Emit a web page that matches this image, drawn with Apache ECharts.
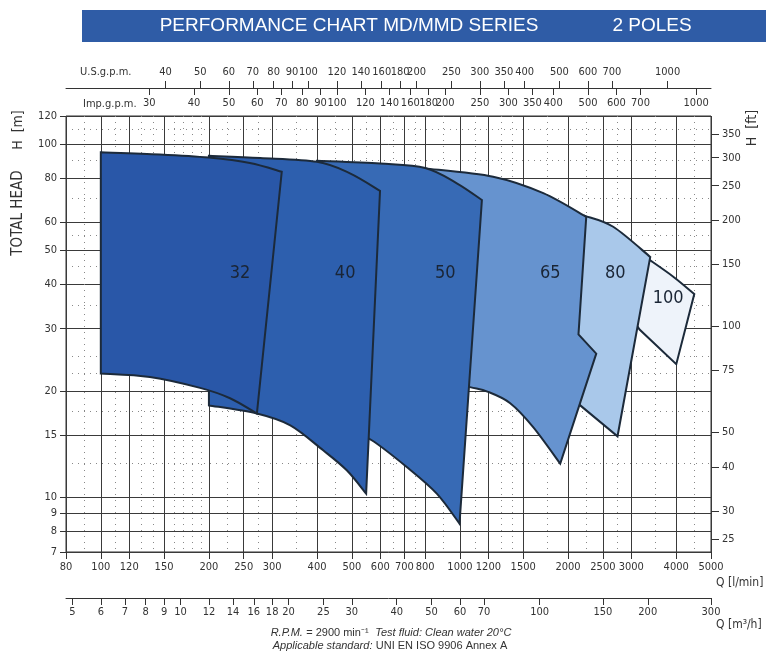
<!DOCTYPE html>
<html><head><meta charset="utf-8">
<script src="https://cdn.jsdelivr.net/npm/echarts@6/dist/echarts.min.js"></script>
<style>html,body{margin:0;padding:0;background:#fff}#c{width:766px;height:653px}</style>
</head><body><div id="c"></div>
<script>
// ---- tick labels ----
const qTicks   = [80,100,120,150,200,250,300,400,500,600,700,800,1000,1200,1500,2000,2500,3000,4000,5000];
const qMinor   = [90,110,130,140,160,170,180,190,225,275,350,450,550,650,750,900,1100,1300,1400,1750,2250,2750,3500,4500];
const m3hTicks = [5,6,7,8,9,10,12,14,16,18,20,25,30,40,50,60,70,100,150,200,300];
const usTicks  = [40,50,60,70,80,90,100,120,140,160,180,200,250,300,350,400,500,600,700,1000];
const impTicks = [30,40,50,60,70,80,90,100,120,140,160,180,200,250,300,350,400,500,600,700,1000];
const hTicks   = [7,8,9,10,15,20,30,40,50,60,80,100,120];
const hMinor   = [110,90,70,55,45,35,25,22.5,17.5,12.5];
const ftTicks  = [25,30,40,50,75,100,150,200,250,300,350];

// ---- pump fields: edges of [Q l/min, H m]; 2-point edges are straight, longer ones are curves ----
const pumpNames = ['100','80','65','50','40','32'];
const field100 = [
  [[3340,47.3],[3926,42.1],[4492,37.6]],
  [[4492,37.6],[4002,23.8]],
  [[4002,23.8],[3163,29.85]],
  [[3163,29.85],[3110,30.6]],
  [[3110,30.6],[3340,47.3]]
];
const field80 = [
  [[2230,62.6],[2671,58.3],[3387,47.9]],
  [[3387,47.9],[2746,14.88]],
  [[2746,14.88],[2162,18.2]],
  [[2162,18.2],[2028,19.2]],
  [[2028,19.2],[2100,28.9]],
  [[2100,28.9],[2230,62.6]]
];
const field65 = [
  [[800,85.3],[1237,80.8],[1706,72.6],[2247,62.2]],
  [[2247,62.2],[2138,28.9]],
  [[2138,28.9],[2396,25.5]],
  [[2396,25.5],[1902,12.45]],
  [[1902,12.45],[1599,15.8],[1380,18.46],[1198,19.87],[1067,20.5],[800,21.8]],
  [[800,21.8],[800,85.3]]
];
const field50 = [
  [[400,89.6],[599,88.0],[800,85.5],[980,77.4],[1151,69.4]],
  [[1151,69.4],[997,8.42]],
  [[997,8.42],[862,10.24],[711,12.18],[568,14.5],[479,15.68],[400,16.7]],
  [[400,16.7],[400,89.6]]
];
const field40 = [
  [[200,92.6],[278,91.3],[400,89.0],[494,82.6],[599,73.7]],
  [[599,73.7],[548,10.24]],
  [[548,10.24],[484,11.92],[416,13.58],[337,15.98],[272,17.26],[200,18.2]],
  [[200,18.2],[200,92.6]]
];
const field32 = [
  [[100,94.7],[146,93.4],[200,91.5],[260,88.3],[319,83.4]],
  [[319,83.4],[272,17.26]],
  [[272,17.26],[229,19.07],[189,20.4],[137,21.9],[100,22.4]],
  [[100,22.4],[100,94.7]]
];
const labelPos = [[3800,36.6],[2705,43.1],[1784,43.1],[910,43.1],[479,43.1],[244,43.1]];

const fields = [field100, field80, field65, field50, field40, field32];
const fills  = ['#eef3fa','#a9c8ea','#6693cf','#376ab5','#2d5fae','#2957a8'];

const L_PER_USGPM = 3.785411784, L_PER_IMPGPM = 4.54609, L_PER_M3H = 1000/60, M_PER_FT = 0.3048;
const Q_MIN = 80, Q_MAX = 5000, H_MIN = 7, H_MAX = 120;

const NARROW = "'Liberation Sans Narrow','DejaVu Sans Condensed','Liberation Sans',sans-serif";
const SANS = "'Liberation Sans',Arial,sans-serif";
const fmt = v => String(Math.round(v));

function edgePath(pts) {
  // straight edge or smooth Catmull-Rom curve through pixel points (starting point already reached)
  if (pts.length === 2) return ' L' + pts[1][0] + ' ' + pts[1][1];
  let s = '';
  for (let i = 0; i < pts.length - 1; i++) {
    const p0 = pts[i - 1] || pts[i], p1 = pts[i], p2 = pts[i + 1], p3 = pts[i + 2] || p2;
    const c1 = [p1[0] + (p2[0] - p0[0]) / 6, p1[1] + (p2[1] - p0[1]) / 6];
    const c2 = [p2[0] - (p3[0] - p1[0]) / 6, p2[1] - (p3[1] - p1[1]) / 6];
    s += ' C' + c1[0] + ' ' + c1[1] + ' ' + c2[0] + ' ' + c2[1] + ' ' + p2[0] + ' ' + p2[1];
  }
  return s;
}

const chart = echarts.init(document.getElementById('c'));

const series = fields.map((f, i) => ({
  type: 'custom',
  xAxisIndex: 0, yAxisIndex: 0,
  clip: true,
  z: 10 + i,
  data: [].concat(...f),
  encode: {x: 0, y: 1},
  renderItem: function (params, api) {
    if (params.dataIndex !== 0) return null;
    const edges = f.map(e => e.map(p => api.coord(p)));
    let d = 'M' + edges[0][0][0] + ' ' + edges[0][0][1];
    edges.forEach(e => { d += edgePath(e); });
    d += ' Z';
    const lp = api.coord(labelPos[i]);
    return {
      type: 'group',
      children: [
        {type: 'path', shape: {pathData: d},
         style: {fill: fills[i], stroke: '#1c2a3a', lineWidth: 2, lineJoin: 'miter'}},
        {type: 'text', x: lp[0], y: lp[1],
         style: {text: pumpNames[i], fill: '#1a2535', font: "18px 'Liberation Sans Narrow','DejaVu Sans Condensed',sans-serif",
                 align: 'center', verticalAlign: 'middle'}}
      ]
    };
  }
}));

const tickLabel = {fontFamily: NARROW, fontSize: 11, color: '#333', formatter: fmt};

const option = {
  animation: false,
  backgroundColor: '#ffffff',
  grid: {left: 66, right: 55, top: 116, bottom: 101, show: true, borderColor: '#333', borderWidth: 1, backgroundColor: 'transparent'},
  xAxis: [
    {type: 'log', logBase: 10, min: Q_MIN, max: Q_MAX, position: 'bottom',
     axisLine: {show: false},
     axisTick: {show: true, length: 7, customValues: qTicks, lineStyle: {color: '#333'}},
     axisLabel: Object.assign({customValues: qTicks, margin: 10}, tickLabel),
     splitLine: {show: true, lineStyle: {color: '#3a3a3a', width: 1}}},
    {type: 'log', logBase: 10, min: Q_MIN / L_PER_M3H, max: Q_MAX / L_PER_M3H, position: 'bottom', offset: 46,
     axisLine: {show: true, lineStyle: {color: '#333'}},
     axisTick: {show: true, length: 7, customValues: m3hTicks, lineStyle: {color: '#333'}},
     axisLabel: Object.assign({customValues: m3hTicks, margin: 9}, tickLabel),
     splitLine: {show: false}},
    {type: 'log', logBase: 10, min: Q_MIN / L_PER_USGPM, max: Q_MAX / L_PER_USGPM, position: 'top', offset: 28,
     axisLine: {show: true, lineStyle: {color: '#333'}},
     axisTick: {show: true, length: 7, customValues: usTicks, lineStyle: {color: '#333'}},
     axisLabel: Object.assign({customValues: usTicks, margin: 10}, tickLabel),
     splitLine: {show: false}},
    {type: 'log', logBase: 10, min: Q_MIN / L_PER_IMPGPM, max: Q_MAX / L_PER_IMPGPM, position: 'top', offset: 28,
     axisLine: {show: false},
     axisTick: {show: true, inside: true, length: 7, customValues: impTicks, lineStyle: {color: '#333'}},
     axisLabel: Object.assign({customValues: impTicks, inside: true, margin: 10}, tickLabel),
     splitLine: {show: false}},
    {type: 'log', logBase: 10, min: Q_MIN, max: Q_MAX, position: 'bottom',
     axisLine: {show: false}, axisLabel: {show: false},
     axisTick: {show: false, customValues: qMinor},
     splitLine: {show: true, lineStyle: {color: '#888', width: 1, type: [1, 5]}}}
  ],
  yAxis: [
    {type: 'log', logBase: 10, min: H_MIN, max: H_MAX, position: 'left',
     axisLine: {show: false},
     axisTick: {show: true, length: 6, customValues: hTicks, lineStyle: {color: '#333'}},
     axisLabel: Object.assign({customValues: hTicks, margin: 9}, tickLabel),
     splitLine: {show: true, lineStyle: {color: '#3a3a3a', width: 1}}},
    {type: 'log', logBase: 10, min: H_MIN / M_PER_FT, max: H_MAX / M_PER_FT, position: 'right',
     axisLine: {show: false},
     axisTick: {show: true, length: 8, customValues: ftTicks, lineStyle: {color: '#333'}},
     axisLabel: Object.assign({customValues: ftTicks, margin: 11}, tickLabel),
     splitLine: {show: false}},
    {type: 'log', logBase: 10, min: H_MIN, max: H_MAX, position: 'left',
     axisLine: {show: false}, axisLabel: {show: false},
     axisTick: {show: false, customValues: hMinor},
     splitLine: {show: true, lineStyle: {color: '#888', width: 1, type: [1, 5]}}}
  ],
  series: series,
  graphic: [
    {type: 'rect', left: 82, top: 10, z: 0, shape: {width: 684, height: 32}, style: {fill: '#2f5ca6'}},
    {type: 'text', x: 349, y: 26, style: {text: 'PERFORMANCE CHART MD/MMD SERIES', fill: '#fff', font: "19px " + SANS, align: 'center', verticalAlign: 'middle'}},
    {type: 'text', x: 652, y: 26, style: {text: '2 POLES', fill: '#fff', font: "19px " + SANS, align: 'center', verticalAlign: 'middle'}},
    {type: 'text', x: 80, y: 72, style: {text: 'U.S.g.p.m.', fill: '#333', font: "11px " + NARROW, align: 'left', verticalAlign: 'middle'}},
    {type: 'text', x: 83, y: 104, style: {text: 'Imp.g.p.m.', fill: '#333', font: "11px " + NARROW, align: 'left', verticalAlign: 'middle'}},
    {type: 'text', x: 18, y: 213, rotation: Math.PI / 2, style: {text: 'TOTAL HEAD', fill: '#333', font: "15px " + NARROW, align: 'center', verticalAlign: 'middle'}},
    {type: 'text', x: 18, y: 130, rotation: Math.PI / 2, style: {text: 'H  [m]', fill: '#333', font: "14px " + NARROW, align: 'center', verticalAlign: 'middle'}},
    {type: 'text', x: 752, y: 128, rotation: Math.PI / 2, style: {text: 'H  [ft]', fill: '#333', font: "14px " + NARROW, align: 'center', verticalAlign: 'middle'}},
    {type: 'text', x: 716, y: 583, style: {text: 'Q [l/min]', fill: '#333', font: "12px " + NARROW, align: 'left', verticalAlign: 'middle'}},
    {type: 'text', x: 716, y: 625, style: {text: 'Q [m³/h]', fill: '#333', font: "12px " + NARROW, align: 'left', verticalAlign: 'middle'}},
    {type: 'text', x: 391, y: 633, style: {
      text: '{i|R.P.M.} {n|= 2900 min⁻¹}  {i|Test fluid: Clean water 20°C}',
      align: 'center', verticalAlign: 'middle',
      rich: {i: {font: "italic 11px " + SANS, fill: '#333'}, n: {font: "11px " + SANS, fill: '#333'}}}},
    {type: 'text', x: 390, y: 646, style: {
      text: '{i|Applicable standard:} {n|UNI EN ISO 9906 Annex A}',
      align: 'center', verticalAlign: 'middle',
      rich: {i: {font: "italic 11px " + SANS, fill: '#333'}, n: {font: "11px " + SANS, fill: '#333'}}}}
  ]
};
chart.setOption(option);
</script></body></html>
